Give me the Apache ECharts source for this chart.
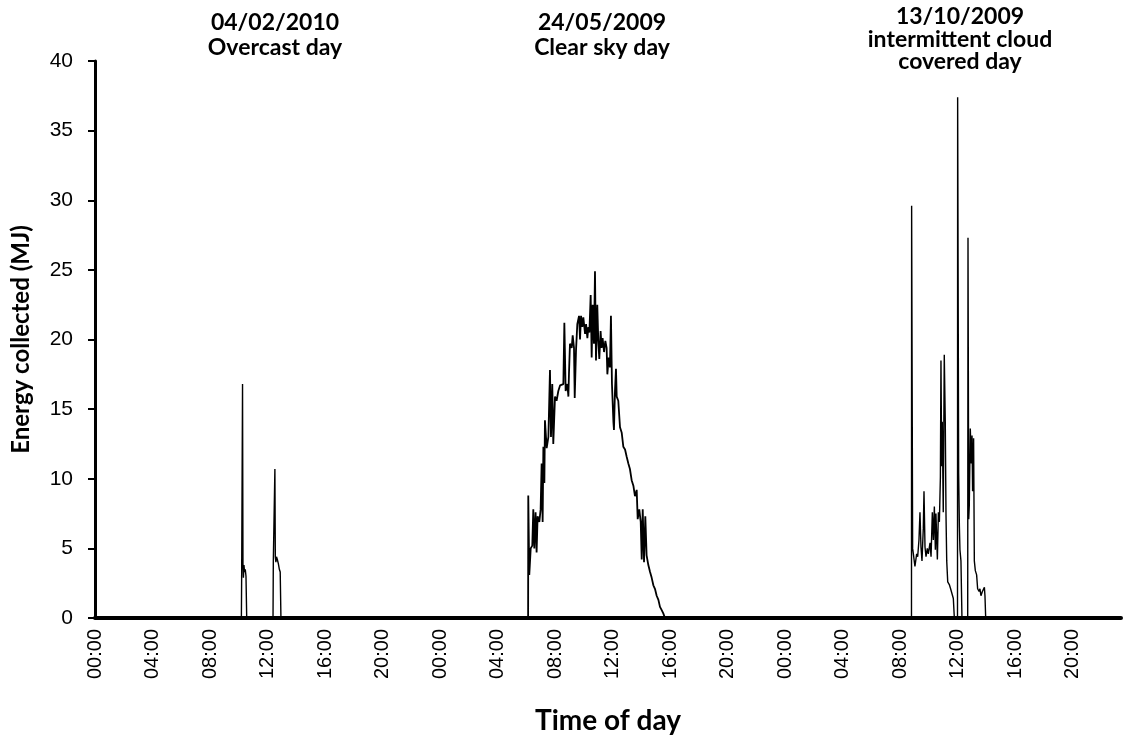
<!DOCTYPE html>
<html>
<head>
<meta charset="utf-8">
<script src="https://cdn.jsdelivr.net/npm/echarts@6/dist/echarts.min.js"></script>
<style>
  html, body { margin: 0; padding: 0; background: #fff; }
  #chart { width: 1126px; height: 740px; }
</style>
</head>
<body>
<div id="chart"></div>
<script>
// hours are measured from that day's midnight, values in MJ
const dayStarts = [0, 24, 48];

const overcastDay = [
  [10.18, 0], [10.20, 3.2], [10.26, 16.8], [10.29, 3.9], [10.32, 2.9], [10.36, 3.8],
  [10.40, 3.3], [10.45, 3.5], [10.50, 3.0], [10.55, 0],
  [12.38, 0], [12.40, 4.0], [12.51, 10.7], [12.54, 4.4], [12.58, 4.0], [12.62, 4.4],
  [12.68, 4.2], [12.75, 3.9], [12.82, 3.5], [12.88, 3.3], [12.93, 0]
];

const clearSkyDay = [
  [6.12, 0], [6.13, 8.8], [6.20, 3.1], [6.30, 5.0], [6.41, 5.2], [6.48, 7.8], [6.55, 5.0],
  [6.64, 7.6], [6.71, 4.7], [6.78, 7.3], [6.90, 6.9], [6.99, 7.8], [7.06, 11.1], [7.13, 6.9],
  [7.18, 12.3], [7.25, 9.7], [7.29, 14.2], [7.41, 12.2], [7.53, 13.0], [7.64, 17.8],
  [7.71, 13.0], [7.80, 16.8], [7.87, 12.5], [7.99, 15.9], [8.10, 15.6], [8.22, 16.3],
  [8.34, 16.7], [8.57, 16.8], [8.64, 21.2], [8.73, 16.3], [8.85, 16.8], [8.92, 15.9],
  [8.96, 17.5], [9.03, 19.7], [9.15, 19.4], [9.22, 20.3], [9.31, 19.4], [9.36, 15.8],
  [9.45, 19.2], [9.54, 21.1], [9.66, 21.7], [9.73, 20.0], [9.80, 21.7], [9.89, 20.9],
  [9.96, 21.6], [10.08, 20.4], [10.15, 21.1], [10.24, 20.1], [10.31, 20.9], [10.38, 20.5],
  [10.47, 23.2], [10.54, 18.7], [10.61, 22.5], [10.70, 19.7], [10.77, 24.9], [10.84, 18.5],
  [10.93, 22.5], [11.00, 19.9], [11.07, 18.6], [11.16, 20.6], [11.23, 19.4], [11.30, 20.1],
  [11.40, 19.1], [11.49, 19.9], [11.58, 19.4], [11.63, 17.5], [11.72, 18.7], [11.81, 18.0],
  [11.88, 21.7], [11.95, 16.8], [12.05, 14.1], [12.09, 13.5], [12.16, 16.3], [12.23, 17.9],
  [12.28, 15.9], [12.39, 15.6], [12.51, 13.7], [12.63, 13.3], [12.74, 12.3], [12.86, 12.1],
  [12.97, 11.6], [13.09, 11.1], [13.20, 10.7], [13.32, 9.9], [13.44, 9.5], [13.55, 8.75],
  [13.67, 9.2], [13.74, 7.1], [13.85, 7.8], [13.95, 6.9], [14.02, 4.2], [14.09, 7.8],
  [14.18, 4.0], [14.27, 7.3], [14.36, 4.5], [14.48, 3.8], [14.60, 3.3], [14.71, 2.9],
  [14.83, 2.35], [14.94, 2.1], [15.06, 1.6], [15.18, 1.3], [15.29, 0.8], [15.41, 0.57],
  [15.52, 0.33], [15.64, 0]
];

const cloudyDay = [
  [8.78, 0], [8.79, 29.6], [8.86, 5.0], [8.91, 4.6], [9.02, 3.7], [9.14, 4.6], [9.21, 4.4],
  [9.30, 5.6], [9.37, 7.6], [9.44, 5.1], [9.51, 4.1], [9.60, 6.4], [9.65, 9.1], [9.72, 5.1],
  [9.79, 4.4], [9.88, 5.0], [9.95, 4.6], [10.07, 5.4], [10.14, 4.4], [10.23, 7.6], [10.30, 5.6],
  [10.37, 8.0], [10.44, 4.9], [10.48, 7.5], [10.58, 4.2], [10.65, 7.6], [10.72, 6.9],
  [10.79, 10.1], [10.83, 18.5], [10.88, 10.9], [10.92, 14.1], [10.99, 7.6], [11.06, 18.9],
  [11.13, 14.1], [11.18, 7.4], [11.23, 4.1], [11.30, 2.6], [11.41, 2.4], [11.50, 2.1],
  [11.62, 2.0], [11.69, 1.4], [11.76, 0],
  [11.98, 0], [11.99, 37.4], [12.06, 10.4], [12.11, 6.6], [12.15, 4.9], [12.22, 4.1], [12.29, 0],
  [12.69, 0], [12.71, 27.3], [12.76, 7.1], [12.80, 8.1], [12.87, 13.6], [12.94, 11.1],
  [12.99, 13.1], [13.03, 9.1], [13.10, 12.9], [13.15, 4.1], [13.22, 3.4], [13.31, 3.1],
  [13.38, 2.1], [13.48, 1.9], [13.54, 2.1], [13.61, 1.6], [13.71, 1.9], [13.78, 2.0],
  [13.85, 2.2], [13.89, 1.6], [13.94, 0]
];

const days = [overcastDay, clearSkyDay, cloudyDay];
const dayNotes = [
  { lines: ['04/02/2010', 'Overcast day'], x: 275, y: 23, gap: 25 },
  { lines: ['24/05/2009', 'Clear sky day'], x: 602, y: 23, gap: 25 },
  { lines: ['13/10/2009', 'intermittent cloud', 'covered day'], x: 960, y: 17, gap: 22.5 }
];

const yTicks = { min: 0, max: 40, step: 5 };
const xTicks = { min: 0, max: 71.35, step: 4 };

const chart = echarts.init(document.getElementById('chart'));

const series = days.map((pts, i) => ({
  type: 'line',
  showSymbol: false,
  symbol: 'none',
  data: pts.map(p => [p[0] + dayStarts[i], p[1]]),
  lineStyle: { color: '#000', width: i === 1 ? 1.8 : 1.4 },
  z: 3
}));

const graphic = [];
dayNotes.forEach(note => {
  note.lines.forEach((txt, k) => {
    graphic.push({
      type: 'text',
      x: note.x,
      y: note.y + k * note.gap,
      style: {
        text: txt,
        fill: '#000',
        fontFamily: 'Lato',
        fontWeight: 'bold',
        fontSize: 23,
        textAlign: 'center',
        textVerticalAlign: 'middle'
      }
    });
  });
});

const option = {
  animation: false,
  backgroundColor: '#fff',
  grid: { left: 95, right: 5, top: 61, bottom: 117, containLabel: false },
  xAxis: {
    type: 'value',
    min: xTicks.min,
    max: xTicks.max,
    interval: xTicks.step,
    name: 'Time of day',
    nameLocation: 'middle',
    nameGap: 89,
    nameTextStyle: { color: '#000', fontFamily: 'Lato', fontWeight: 'bold', fontSize: 28 },
    axisLine: { show: true, onZero: false, lineStyle: { color: '#000', width: 4 } },
    axisTick: { show: false },
    splitLine: { show: false },
    axisLabel: {
      rotate: 90,
      margin: 11,
      color: '#000',
      fontFamily: 'Liberation Sans',
      fontSize: 20,
      showMaxLabel: false,
      formatter: v => String(Math.round(v) % 24).padStart(2, '0') + ':00'
    }
  },
  yAxis: {
    type: 'value',
    min: yTicks.min,
    max: yTicks.max,
    interval: yTicks.step,
    name: 'Energy collected (MJ)',
    nameLocation: 'middle',
    nameGap: 62,
    nameTextStyle: { color: '#000', fontFamily: 'Lato', fontWeight: 'bold', fontSize: 24 },
    axisLine: { show: true, lineStyle: { color: '#000', width: 3 } },
    axisTick: { show: true, inside: false, length: 7, lineStyle: { color: '#000', width: 2 } },
    splitLine: { show: false },
    axisLabel: { color: '#000', fontFamily: 'Liberation Sans', fontSize: 21, margin: 22 }
  },
  series: series,
  graphic: graphic
};

chart.setOption(option);
</script>
</body>
</html>
